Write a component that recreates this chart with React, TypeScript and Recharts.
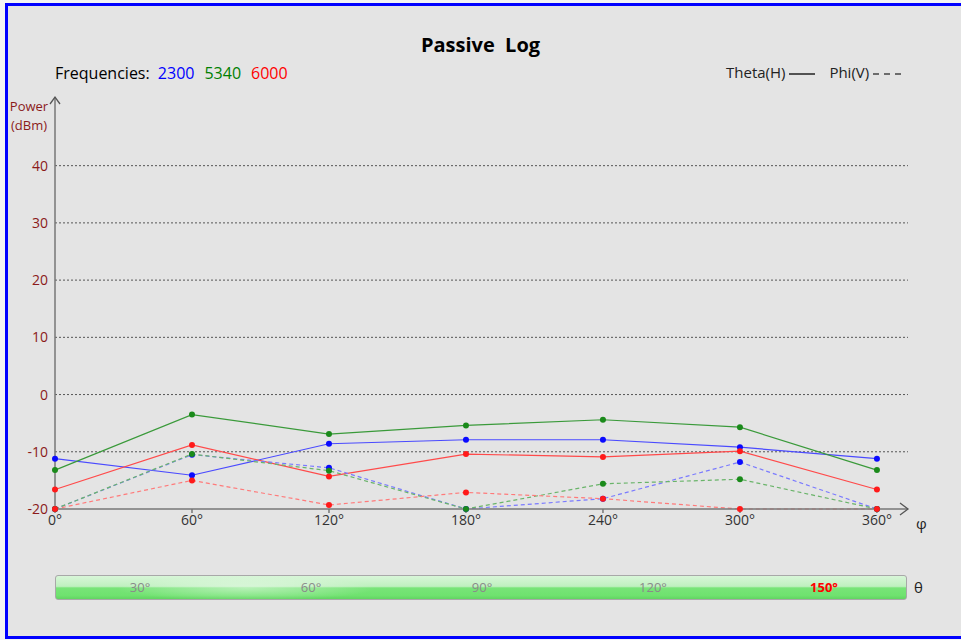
import React from 'react';
import {
    LineChart,
    Line,
    XAxis,
    YAxis,
    CartesianGrid,
} from 'recharts';

// phi angles along the x axis
const angles = [0, 60, 120, 180, 240, 300, 360];

// Theta(H) power, dBm
const theta2300 = [-11.2, -14.1, -8.6, -7.9, -7.9, -9.2, -11.2];
const theta5340 = [-13.2, -3.5, -6.9, -5.4, -4.4, -5.7, -13.2];
const theta6000 = [-16.6, -8.8, -14.3, -10.4, -10.9, -9.9, -16.6];

// Phi(V) power, dBm
const phi2300 = [-20, -10.5, -12.8, -20, -18.2, -11.8, -20];
const phi5340 = [-20, -10.4, -13.3, -20, -15.6, -14.8, -20];
const phi6000 = [-20, -15.0, -19.3, -17.1, -18.2, -20, -20];

const yTicks = [-20, -10, 0, 10, 20, 30, 40];
const thetaLabels = ['30°', '60°', '90°', '120°', '150°'];
const activeTheta = '150°';

const frequencies = [
    { name: '2300', color: '#0000ff' },
    { name: '5340', color: '#008000' },
    { name: '6000', color: '#ff0000' },
];

const data = angles.map((a, i) => ({
    angle: a,
    t2300: theta2300[i],
    t5340: theta5340[i],
    t6000: theta6000[i],
    p2300: phi2300[i],
    p5340: phi5340[i],
    p6000: phi6000[i],
}));

const FONT = '"Open Sans", "Noto Sans", sans-serif';

const series = [
    { key: 't2300', line: '#4a4aff', dot: '#0a0aff', dashed: false },
    { key: 't5340', line: '#3a9a3a', dot: '#1a8a1a', dashed: false },
    { key: 't6000', line: '#ff4a4a', dot: '#ff1a1a', dashed: false },
    { key: 'p2300', line: '#7a7aff', dot: '#0a0aff', dashed: true },
    { key: 'p5340', line: '#6ab46a', dot: '#1a8a1a', dashed: true },
    { key: 'p6000', line: '#ff7a7a', dot: '#ff1a1a', dashed: true },
];

const App = () => {
    return (
        <div style={{ position: 'absolute', left: 0, top: 0, width: 961, height: 640, background: '#f4f4f4', overflow: 'hidden', fontFamily: FONT }}>
            {/* panel with blue frame */}
            <div style={{ position: 'absolute', left: 5, top: 3, width: 960, height: 630, border: '3px solid #0000ff', background: '#e4e4e4' }} />

            <LineChart
                width={961}
                height={640}
                data={data}
                margin={{ top: 97, right: 53, bottom: 111, left: 15 }}
                style={{ position: 'absolute', left: 0, top: 0, fontFamily: FONT }}
            >
                <CartesianGrid
                    horizontal={true}
                    vertical={false}
                    stroke="#555"
                    strokeDasharray="2 2"
                    horizontalValues={[-10, 0, 10, 20, 30, 40]}
                />
                <XAxis
                    dataKey="angle"
                    type="number"
                    domain={[0, 373.6]}
                    ticks={angles}
                    tickFormatter={(v) => `${v}°`}
                    stroke="#777"
                    strokeWidth={1.5}
                    tickSize={4}
                    tickMargin={2}
                    height={20}
                    tick={{ fill: '#333', fontSize: 14 }}
                    interval={0}
                />
                <YAxis
                    type="number"
                    domain={[-20, 52]}
                    ticks={yTicks}
                    stroke="#777"
                    strokeWidth={1.5}
                    tickSize={0}
                    tickMargin={7}
                    width={40}
                    tick={{ fill: '#8b1a1a', fontSize: 14 }}
                    interval={0}
                />
                {series.map((s) => (
                    <Line
                        key={s.key}
                        dataKey={s.key}
                        type="linear"
                        stroke={s.line}
                        strokeWidth={1.2}
                        strokeDasharray={s.dashed ? '4 3' : undefined}
                        dot={{ r: 3, fill: s.dot, stroke: 'none' }}
                        activeDot={false}
                        isAnimationActive={false}
                    />
                ))}
            </LineChart>

            {/* axis arrow heads */}
            <svg width={961} height={640} style={{ position: 'absolute', left: 0, top: 0, pointerEvents: 'none' }}>
                <polyline points="50,104 55,97 60,104" fill="none" stroke="#555" strokeWidth={1.3} />
                <polyline points="900,503 908,509 900,515" fill="none" stroke="#555" strokeWidth={1.3} />
            </svg>

            {/* title */}
            <div style={{ position: 'absolute', left: 0, width: 961, top: 31, textAlign: 'center', fontSize: 20, fontWeight: 700, color: '#000', whiteSpace: 'pre' }}>
                {'Passive  Log'}
            </div>

            {/* frequencies */}
            <div style={{ position: 'absolute', left: 55, top: 62, fontSize: 16, color: '#000', whiteSpace: 'pre' }}>
                {'Frequencies: '}
                {frequencies.map((f, i) => (
                    <span key={f.name} style={{ color: f.color, marginLeft: i === 0 ? 4 : 0, marginRight: 10 }}>{f.name}</span>
                ))}
            </div>

            {/* line-style legend */}
            <div style={{ position: 'absolute', left: 726, top: 62, fontSize: 15, color: '#222', whiteSpace: 'pre' }}>
                {'Theta(H) '}
                <svg width={26} height={4} style={{ verticalAlign: 'middle', marginRight: 14 }}>
                    <line x1={0} y1={2} x2={26} y2={2} stroke="#222" strokeWidth={1.5} />
                </svg>
                {'Phi(V) '}
                <svg width={30} height={4} style={{ verticalAlign: 'middle' }}>
                    <line x1={0} y1={2} x2={30} y2={2} stroke="#444" strokeWidth={1.5} strokeDasharray="6 5" />
                </svg>
            </div>

            {/* y axis title */}
            <div style={{ position: 'absolute', left: 4, width: 50, top: 97, textAlign: 'center', fontSize: 13, lineHeight: '19px', color: '#8b1a1a' }}>
                Power<br />(dBm)
            </div>

            {/* axis symbols */}
            <div style={{ position: 'absolute', left: 916, top: 513, fontSize: 15, color: '#222' }}>φ</div>
            <div style={{ position: 'absolute', left: 914, top: 577, fontSize: 15, color: '#222' }}>θ</div>

            {/* theta selector bar */}
            <div style={{
                position: 'absolute', left: 55, top: 575, width: 852, height: 25, borderRadius: 3,
                border: '1.5px solid #a8a8a8', boxSizing: 'border-box',
                background: 'linear-gradient(to bottom, #d8f6d8 0%, #bff0bf 45%, #78e478 52%, #6fe26f 85%, #62d462 100%)',
                overflow: 'hidden',
            }}>
                <div style={{ position: 'absolute', left: 60, top: 0, width: 260, height: 25, background: 'radial-gradient(ellipse at center, rgba(255,255,255,0.45) 0%, rgba(255,255,255,0) 70%)' }} />
                {thetaLabels.map((t, i) => (
                    <div key={t} style={{
                        position: 'absolute', left: 84 + i * 171 - 30, width: 60, top: 2, textAlign: 'center',
                        fontSize: 13, color: t === activeTheta ? '#ff0000' : '#8a8a8a', fontWeight: t === activeTheta ? 700 : 400,
                    }}>
                        {t}
                    </div>
                ))}
            </div>
        </div>
    );
};

export default App;
